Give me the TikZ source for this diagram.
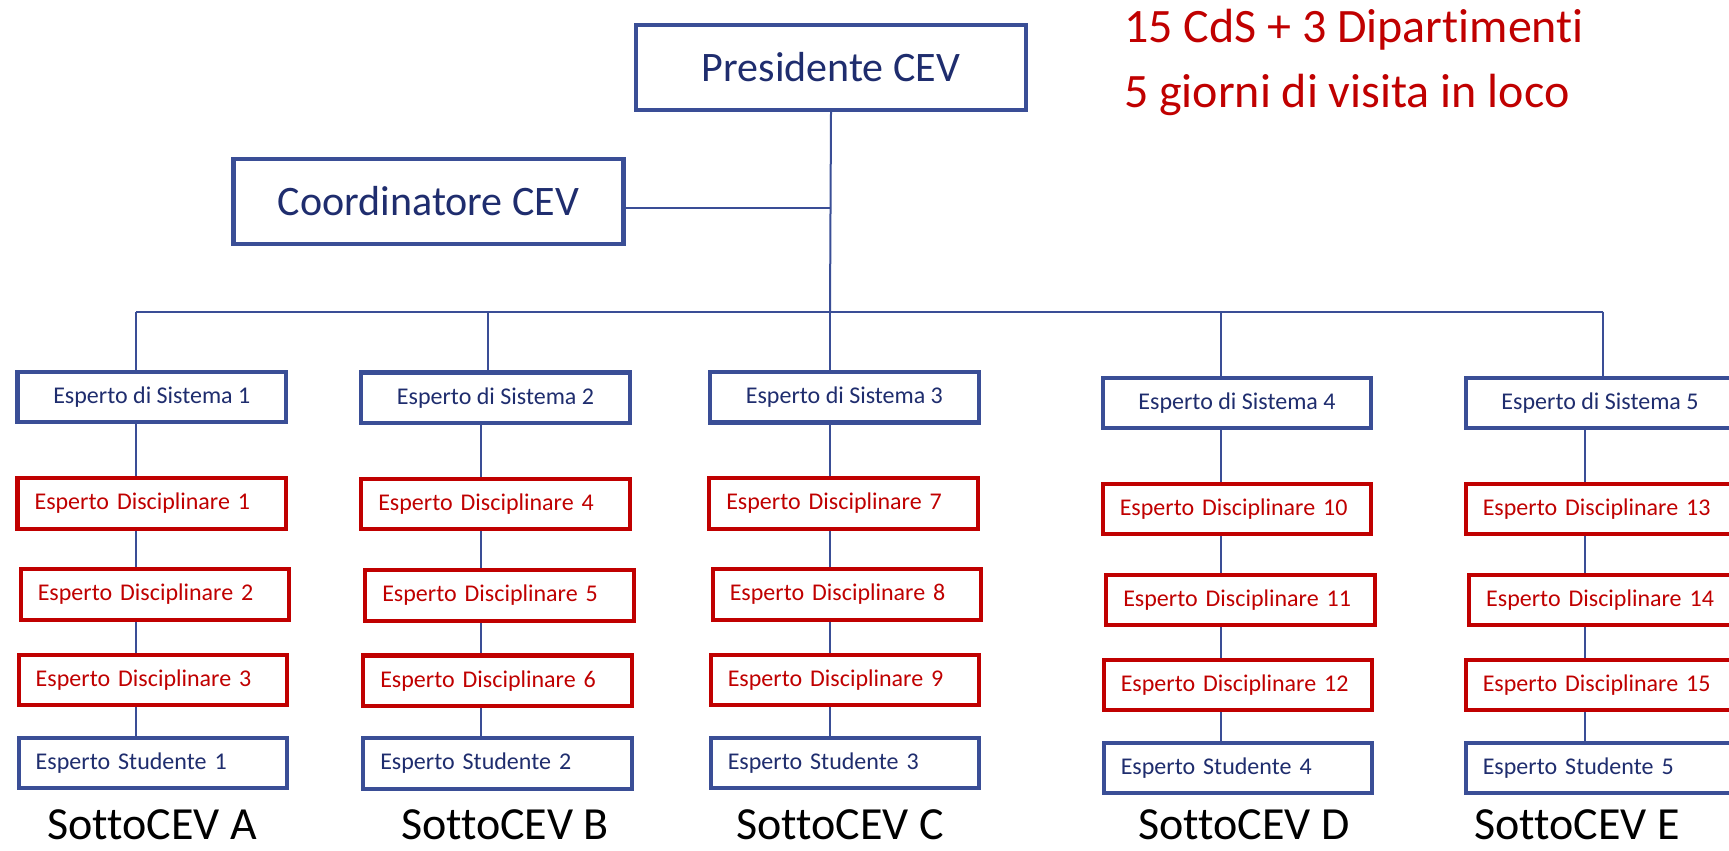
\documentclass[tikz,border=0pt]{standalone}
\usepackage{fontspec}
\setmainfont{Carlito}[Ligatures=NoCommon]
\usetikzlibrary{positioning}
\definecolor{cevblue}{HTML}{3A4E96}
\definecolor{cevnavy}{HTML}{1F2D6E}
\definecolor{cevred}{HTML}{C00000}
\tikzset{bigbox/.style = {draw=cevblue, line width=2.1pt, fill=white,
                          minimum width=195pt, minimum height=42.5pt,
                          text=cevnavy, font=\fontsize{21}{25}\selectfont},
         sysbox/.style = {draw=cevblue, line width=2.1pt, fill=white,
                          minimum width=134.25pt, minimum height=25.25pt,
                          text=cevnavy, font=\fontsize{12}{14}\selectfont},
         stubox/.style = {sysbox, text width=117.25pt, inner xsep=8.5pt, align=left},
         disbox/.style = {stubox, draw=cevred, text=cevred},
         conn/.style = {draw=cevblue, line width=1pt},
         sotto/.style = {anchor=base, inner sep=0pt, font=\fontsize{23}{27}\selectfont}}

\begin{document}
\begin{tikzpicture}[x=0.5pt, y=-0.5pt]
      \useasboundingbox (0, 0) rectangle (1729, 851);
      \clip (0, 0) rectangle (1729, 851);
      % top of the chart
      \node [bigbox] (pres) at (831, 67.5) {Presidente CEV};
      \node [bigbox] (coord) at (428.5, 201.5) {Coordinatore CEV};
      \node [anchor = base west, text=cevred, font=\fontsize{24}{28}\selectfont] (cds) at (1117, 42) {15 CdS + 3 Dipartimenti};
      \node [anchor = base west, text=cevred, font=\fontsize{24}{28}\selectfont] (gg) at (1117, 107) {5 giorni di visita in loco};
      % SottoCEV A
      \node [sysbox] (sys1) at (151.8, 397) {Esperto di Sistema 1};
      \node [disbox] (dis1) at (151.8, 503.5) {Esperto Disciplinare 1};
      \node [disbox] (dis2) at (155, 594.5) {Esperto Disciplinare 2};
      \node [disbox] (dis3) at (153, 680) {Esperto Disciplinare 3};
      \node [stubox] (stu1) at (153, 763) {Esperto Studente 1};
      \node [sotto] (labA) at (152, 839) {SottoCEV A};
      % SottoCEV B
      \node [sysbox] (sys2) at (495.5, 397.7) {Esperto di Sistema 2};
      \node [disbox] (dis4) at (495.5, 504) {Esperto Disciplinare 4};
      \node [disbox] (dis5) at (499.5, 595.5) {Esperto Disciplinare 5};
      \node [disbox] (dis6) at (497.5, 680.7) {Esperto Disciplinare 6};
      \node [stubox] (stu2) at (497.5, 763.5) {Esperto Studente 2};
      \node [sotto] (labB) at (505, 839) {SottoCEV B};
      % SottoCEV C
      \node [sysbox] (sys3) at (844.4, 397.3) {Esperto di Sistema 3};
      \node [disbox] (dis7) at (843.5, 503.5) {Esperto Disciplinare 7};
      \node [disbox] (dis8) at (847, 594.5) {Esperto Disciplinare 8};
      \node [disbox] (dis9) at (845, 680) {Esperto Disciplinare 9};
      \node [stubox] (stu3) at (845, 763) {Esperto Studente 3};
      \node [sotto] (labC) at (840, 839) {SottoCEV C};
      % SottoCEV D
      \node [sysbox] (sys4) at (1237, 403) {Esperto di Sistema 4};
      \node [disbox] (dis10) at (1237, 509) {Esperto Disciplinare 10};
      \node [disbox] (dis11) at (1240.5, 600) {Esperto Disciplinare 11};
      \node [disbox] (dis12) at (1238, 685) {Esperto Disciplinare 12};
      \node [stubox] (stu4) at (1238, 768) {Esperto Studente 4};
      \node [sotto] (labD) at (1244, 839) {SottoCEV D};
      % SottoCEV E
      \node [sysbox] (sys5) at (1600, 403) {Esperto di Sistema 5};
      \node [disbox] (dis13) at (1600, 509) {Esperto Disciplinare 13};
      \node [disbox] (dis14) at (1603.4, 600) {Esperto Disciplinare 14};
      \node [disbox] (dis15) at (1600, 685) {Esperto Disciplinare 15};
      \node [stubox] (stu5) at (1600, 768) {Esperto Studente 5};
      \node [sotto] (labE) at (1577, 839) {SottoCEV E};
      % bus and drops
      \coordinate (busA) at (136, 311.5);
      \coordinate (busB) at (487.5, 311.5);
      \coordinate (busC) at (830, 311.5);
      \coordinate (busD) at (1221, 311.5);
      \coordinate (busE) at (1603, 311.5);
      \coordinate (join) at ([yshift=-3.25pt]coord.east);
      \draw [conn] (pres.south) -- (busC);
      \draw [conn] (join) -- (join -| pres.south);
      \draw [conn] (busA) -- (busE);
      \draw [conn] (busA) -- (busA |- sys1.north);
      \draw [conn] (busB) -- (busB |- sys2.north);
      \draw [conn] (busC) -- (busC |- sys3.north);
      \draw [conn] (busD) -- (busD |- sys4.north);
      \draw [conn] (busE) -- (busE |- sys5.north);
      % spines inside each SottoCEV
      \coordinate (spA) at (136, 0);
      \coordinate (spB) at (481, 0);
      \coordinate (spC) at (829.5, 0);
      \coordinate (spD) at (1221, 0);
      \coordinate (spE) at (1584.5, 0);
      \draw [conn] (spA |- sys1.south) -- (spA |- dis1.north) (spA |- dis1.south) -- (spA |- dis2.north)
                   (spA |- dis2.south) -- (spA |- dis3.north) (spA |- dis3.south) -- (spA |- stu1.north);
      \draw [conn] (spB |- sys2.south) -- (spB |- dis4.north) (spB |- dis4.south) -- (spB |- dis5.north)
                   (spB |- dis5.south) -- (spB |- dis6.north) (spB |- dis6.south) -- (spB |- stu2.north);
      \draw [conn] (spC |- sys3.south) -- (spC |- dis7.north) (spC |- dis7.south) -- (spC |- dis8.north)
                   (spC |- dis8.south) -- (spC |- dis9.north) (spC |- dis9.south) -- (spC |- stu3.north);
      \draw [conn] (spD |- sys4.south) -- (spD |- dis10.north) (spD |- dis10.south) -- (spD |- dis11.north)
                   (spD |- dis11.south) -- (spD |- dis12.north) (spD |- dis12.south) -- (spD |- stu4.north);
      \draw [conn] (spE |- sys5.south) -- (spE |- dis13.north) (spE |- dis13.south) -- (spE |- dis14.north)
                   (spE |- dis14.south) -- (spE |- dis15.north) (spE |- dis15.south) -- (spE |- stu5.north);
    \end{tikzpicture}
\end{document}
